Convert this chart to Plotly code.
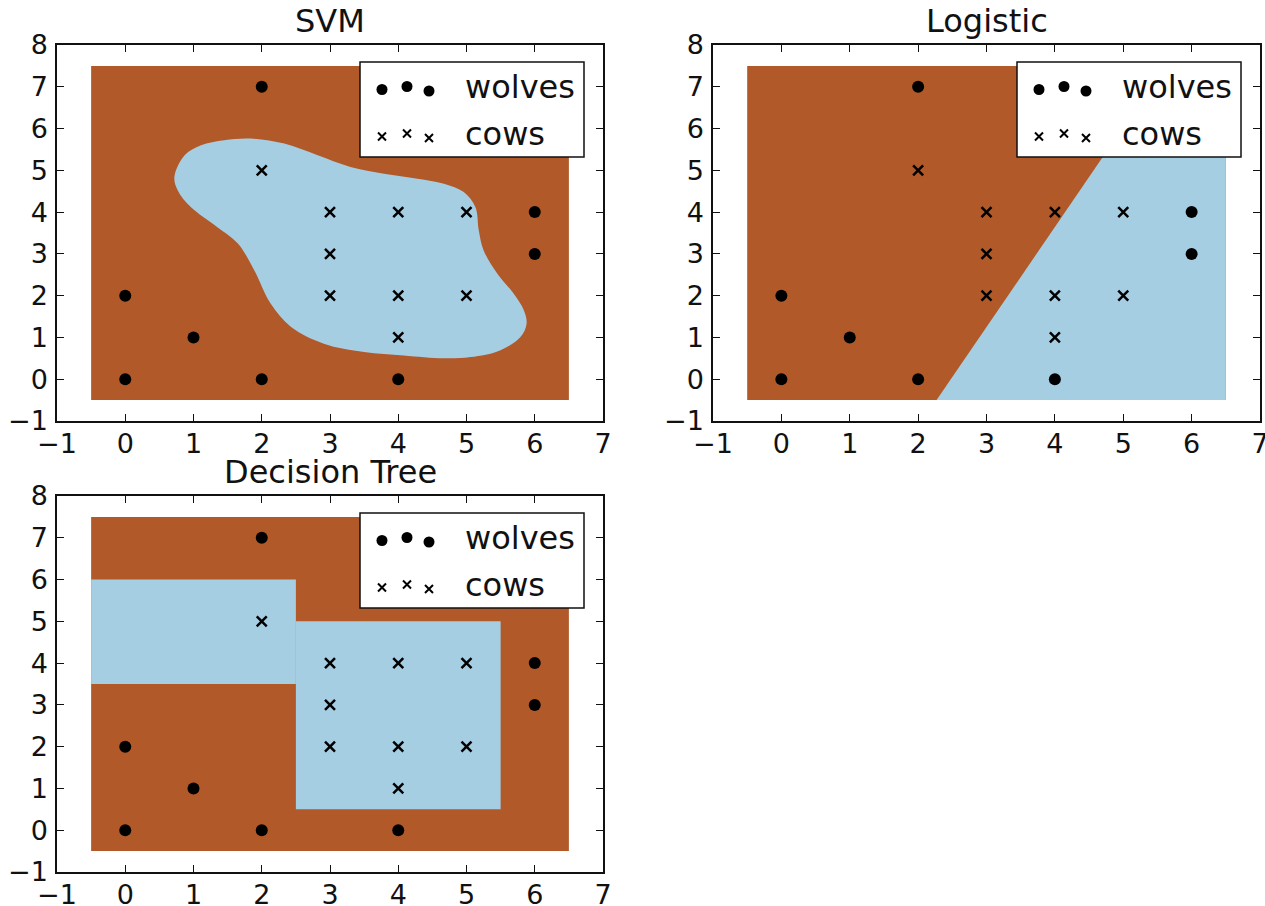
import plotly.graph_objects as go

# Training points
wolf_x = [0, 0, 1, 2, 2, 4, 6, 6]
wolf_y = [0, 2, 1, 0, 7, 0, 3, 4]
cow_x = [2, 3, 4, 5, 3, 3, 4, 5, 4]
cow_y = [5, 4, 4, 4, 3, 2, 2, 2, 1]

# Decision regions
svm_edge_x = [0.72, 0.87, 1.11, 1.45, 1.84, 2.33, 2.82, 3.30, 3.79, 4.28, 4.67, 4.96,
              5.13, 5.18, 5.25, 5.45, 5.69, 5.84, 5.88, 5.79, 5.49, 5.06, 4.67, 4.08,
              3.50, 2.91, 2.43, 2.13, 1.89, 1.65, 1.35, 0.96, 0.77]
svm_edge_y = [4.84, 5.36, 5.60, 5.72, 5.76, 5.64, 5.36, 5.08, 4.92, 4.80, 4.68, 4.48,
              4.12, 3.56, 3.09, 2.53, 2.05, 1.65, 1.33, 1.01, 0.69, 0.53, 0.50, 0.57,
              0.65, 0.85, 1.25, 1.81, 2.61, 3.25, 3.64, 4.12, 4.52]
logit_line_x = [2.27, 5.61]
logit_line_y = [-0.5, 7.5]
tree_leaf_x0 = [-0.5, 2.5]
tree_leaf_x1 = [2.5, 5.5]
tree_leaf_y0 = [3.5, 0.5]
tree_leaf_y1 = [6.0, 5.0]

titles = ["SVM", "Logistic", "Decision Tree"]
x_ticks = [-1, 0, 1, 2, 3, 4, 5, 6, 7]
y_ticks = [-1, 0, 1, 2, 3, 4, 5, 6, 7, 8]

BROWN = "#b15928"
BLUE = "#a6cee3"
INK = "#111111"
FONT = "DejaVu Sans"

W, H = 1265, 906
# axes boxes in pixels: (left, right, top, bottom)
boxes = [(57, 603, 45, 421), (713, 1260, 45, 421), (57, 603, 496, 872)]

pad = 0.5
gx0, gx1 = min(wolf_x + cow_x) - pad, max(wolf_x + cow_x) + pad
gy0, gy1 = min(wolf_y + cow_y) - pad, max(wolf_y + cow_y) + pad


def ax(k):
    s = "" if k == 1 else str(k)
    return "x" + s, "y" + s


fig = go.Figure()


def add_region(k, xs, ys, color, shape="linear"):
    xa, ya = ax(k)
    fig.add_trace(go.Scatter(x=xs, y=ys, mode="lines", fill="toself", fillcolor=color,
                             line=dict(width=0, color=color, shape=shape),
                             hoverinfo="skip", showlegend=False, xaxis=xa, yaxis=ya))


for k in (1, 2, 3):
    add_region(k, [gx0, gx1, gx1, gx0, gx0], [gy0, gy0, gy1, gy1, gy0], BROWN)

# SVM: smooth closed boundary
add_region(1, svm_edge_x + svm_edge_x[:1], svm_edge_y + svm_edge_y[:1], BLUE, "spline")

# Logistic: half-plane right of the boundary line
add_region(2, [logit_line_x[0], gx1, gx1, logit_line_x[1], logit_line_x[0]],
           [logit_line_y[0], gy0, gy1, logit_line_y[1], logit_line_y[0]], BLUE)

# Decision tree: axis-aligned leaves
for x0, x1, y0, y1 in zip(tree_leaf_x0, tree_leaf_x1, tree_leaf_y0, tree_leaf_y1):
    add_region(3, [x0, x1, x1, x0, x0], [y0, y0, y1, y1, y0], BLUE)

for k in (1, 2, 3):
    xa, ya = ax(k)
    fig.add_trace(go.Scatter(x=wolf_x, y=wolf_y, mode="markers", name="wolves",
                             marker=dict(symbol="circle", size=12, color="black"),
                             showlegend=False, xaxis=xa, yaxis=ya))
    fig.add_trace(go.Scatter(x=cow_x, y=cow_y, mode="markers", name="cows",
                             marker=dict(symbol="x-thin", size=10, color="black",
                                         line=dict(width=2.5, color="black")),
                             showlegend=False, xaxis=xa, yaxis=ya))

shapes, annotations = [], []
layout = dict(width=W, height=H, autosize=False, margin=dict(l=0, r=0, t=0, b=0, pad=0),
              paper_bgcolor="white", plot_bgcolor="white", showlegend=False)

for k, (l, r, t, b) in enumerate(boxes, start=1):
    xa, ya = ax(k)
    sx = xa[1:]
    common = dict(showgrid=False, zeroline=False, showline=True, linecolor=INK,
                  linewidth=1.5, mirror="allticks", ticks="inside", ticklen=7,
                  tickwidth=1, tickcolor=INK, tickmode="array", automargin=False,
                  ticklabeloverflow="allow",
                  tickfont=dict(family=FONT, size=27, color=INK))
    layout[f"xaxis{sx}"] = dict(domain=[l / W, r / W], range=[-1, 7], anchor=ya,
                                tickvals=x_ticks, ticklabelstandoff=-2, **common)
    layout[f"yaxis{sx}"] = dict(domain=[1 - b / H, 1 - t / H], range=[-1, 8], anchor=xa,
                                tickvals=y_ticks, ticklabelstandoff=2, **common)

    xd, yd = f"{xa} domain", f"{ya} domain"
    annotations.append(dict(text=titles[k - 1], xref=xd, yref=yd, x=0.5, y=1,
                            xanchor="center", yanchor="bottom", yshift=3, showarrow=False,
                            font=dict(family=FONT, size=32, color=INK)))

    # legend frame anchored at the top-right corner of the axes
    pix = dict(xref=xd, yref=yd, xsizemode="pixel", ysizemode="pixel", xanchor=1, yanchor=1)
    shapes.append(dict(type="rect", x0=-243, x1=-19, y0=-17, y1=-112,
                       line=dict(color=INK, width=1.5), fillcolor="white", layer="above", **pix))
    for dx, dy in [(-221, -44.5), (-196, -41.5), (-174, -46)]:
        shapes.append(dict(type="circle", x0=dx - 5.5, x1=dx + 5.5, y0=dy - 5.5, y1=dy + 5.5,
                           line=dict(width=0), fillcolor="black", layer="above", **pix))
    for dx, dy in [(-221, -91.5), (-196, -88.5), (-174, -93)]:
        path = (f"M{dx - 4},{dy - 4} L{dx + 4},{dy + 4} "
                f"M{dx - 4},{dy + 4} L{dx + 4},{dy - 4}")
        shapes.append(dict(type="path", path=path, line=dict(color="black", width=2),
                           layer="above", **pix))
    for label, dy in [("wolves", -42), ("cows", -89)]:
        annotations.append(dict(text=label, xref=xd, yref=yd, x=1, y=1, xshift=-140,
                                yshift=dy, xanchor="left", yanchor="middle", showarrow=False,
                                font=dict(family=FONT, size=32, color=INK)))

layout["shapes"] = shapes
layout["annotations"] = annotations
fig.update_layout(**layout)
fig.write_html("out.html")
